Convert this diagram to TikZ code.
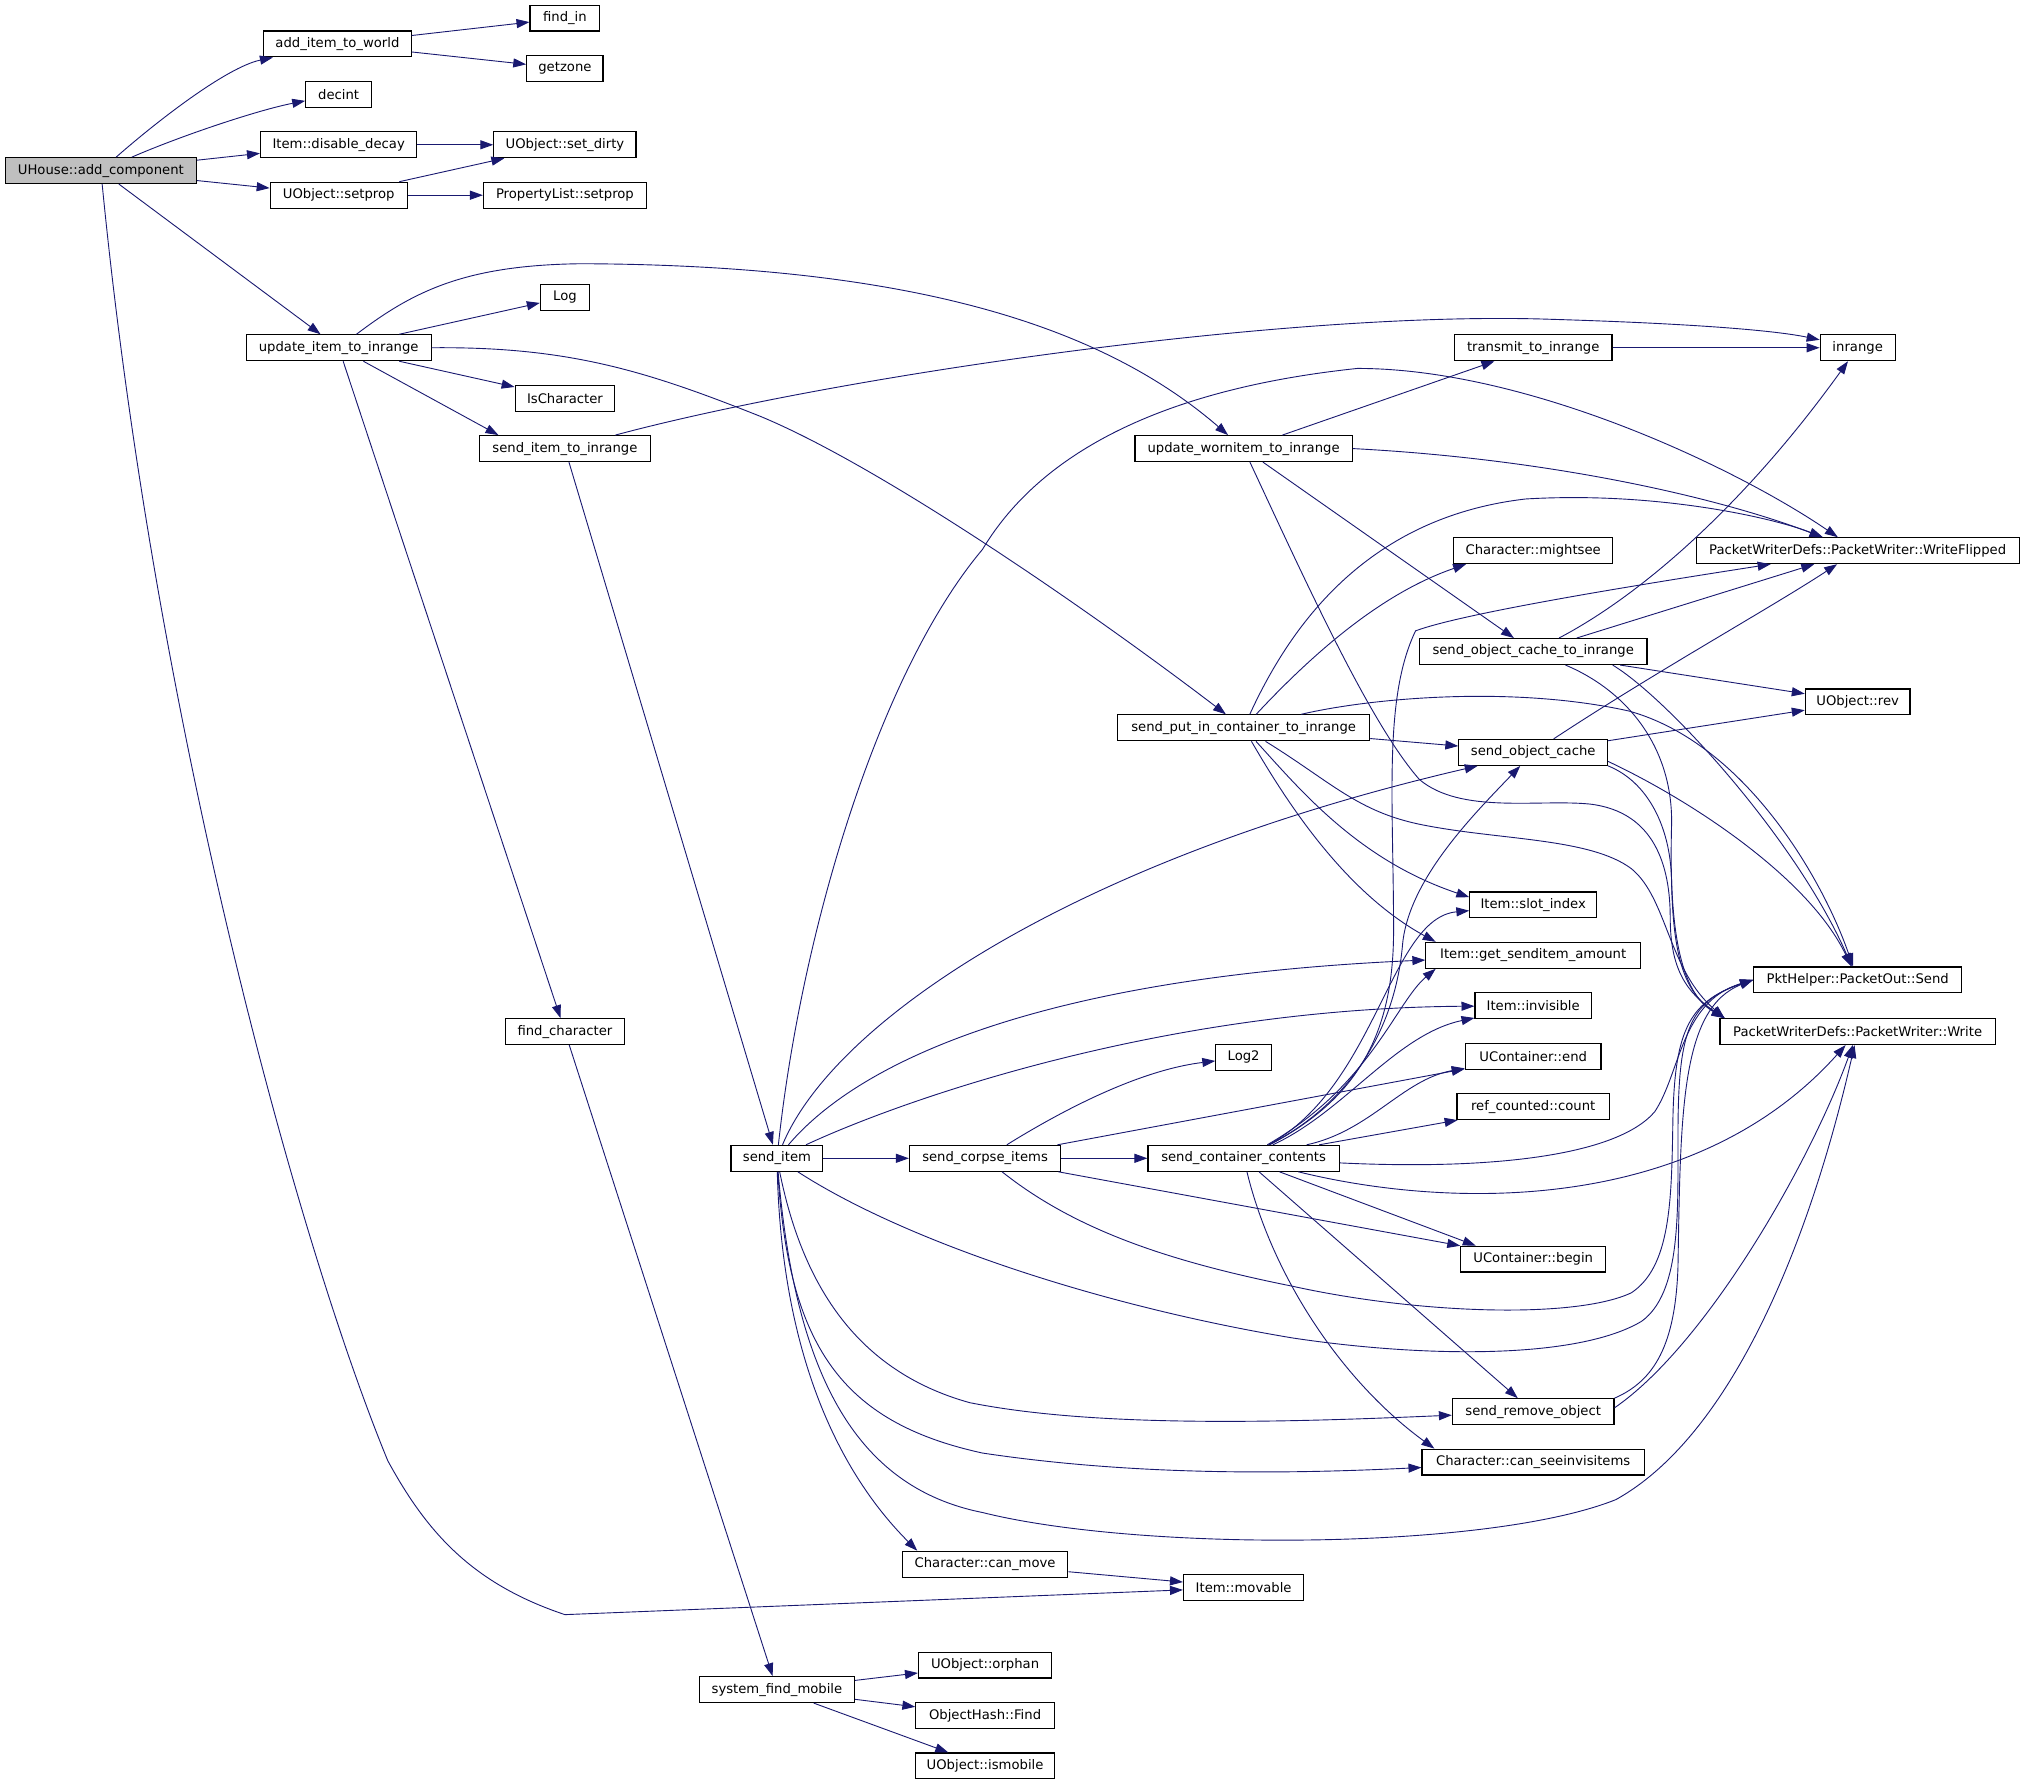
\documentclass[tikz,border=0pt]{standalone}
\usepackage{fontspec}
\setmainfont{DejaVu Sans}
\usepackage{xcolor}
\usepackage{tikz}
\usetikzlibrary{arrows.meta}
\definecolor{edgeblue}{HTML}{191970}
\definecolor{rootgray}{HTML}{BFBFBF}

\begin{document}
\begin{tikzpicture}[->,>={Triangle[length=10pt,width=7pt]},x=1pt,y=-1pt,
            line width=0.7pt,color=edgeblue]
        \tikzstyle{fn}=[draw=black,text=black,fill=white,line width=0.9pt,
            inner sep=0pt,minimum height=20pt,font=\fontsize{10.2}{12}\selectfont]
        \tikzstyle{root}=[fn,fill=rootgray]
        \useasboundingbox (0,0) rectangle (1568,1381);

        \node[root,minimum width=148pt] (addcomp) at (78,132) {UHouse::add\_component};
        \node[fn,minimum width=114pt] (additem) at (261,34) {add\_item\_to\_world};
        \node[fn,minimum width=54pt] (findin) at (437,14) {find\_in};
        \node[fn,minimum width=59pt] (getzone) at (437,53) {getzone};
        \node[fn,minimum width=51pt] (decint) at (262,73) {decint};
        \node[fn,minimum width=121pt] (disdecay) at (262,112) {Item::disable\_decay};
        \node[fn,minimum width=110pt] (setdirty) at (437,112) {UObject::set\_dirty};
        \node[fn,minimum width=106pt] (setprop) at (262,151) {UObject::setprop};
        \node[fn,minimum width=126pt] (plsetprop) at (437,151) {PropertyList::setprop};
        \node[fn,minimum width=143pt] (upditem) at (262,269) {update\_item\_to\_inrange};
        \node[fn,minimum width=38pt] (log) at (437,230) {Log};
        \node[fn,minimum width=77pt] (ischar) at (437,308) {IsCharacter};
        \node[fn,minimum width=132pt] (senditemir) at (437,347) {send\_item\_to\_inrange};
        \node[fn,minimum width=92pt] (findchar) at (437,798) {find\_character};
        \node[fn,minimum width=58pt] (inrange) at (1437,269) {inrange};
        \node[fn,minimum width=122pt] (transmit) at (1186,269) {transmit\_to\_inrange};
        \node[fn,minimum width=168pt] (updworn) at (962,347) {update\_wornitem\_to\_inrange};
        \node[fn,minimum width=250pt] (wflip) at (1437,426) {PacketWriterDefs::PacketWriter::WriteFlipped};
        \node[fn,minimum width=123pt] (mightsee) at (1186,426) {Character::mightsee};
        \node[fn,minimum width=176pt] (soctoir) at (1186,504) {send\_object\_cache\_to\_inrange};
        \node[fn,minimum width=81pt] (rev) at (1437,543) {UObject::rev};
        \node[fn,minimum width=195pt] (sendput) at (962,563) {send\_put\_in\_container\_to\_inrange};
        \node[fn,minimum width=115pt] (socache) at (1186,582) {send\_object\_cache};
        \node[fn,minimum width=98pt] (slotidx) at (1186,700) {Item::slot\_index};
        \node[fn,minimum width=166pt] (getamt) at (1186,739) {Item::get\_senditem\_amount};
        \node[fn,minimum width=161pt] (send) at (1437,758) {PktHelper::PacketOut::Send};
        \node[fn,minimum width=90pt] (invis) at (1186,778) {Item::invisible};
        \node[fn,minimum width=213pt] (write) at (1437,798) {PacketWriterDefs::PacketWriter::Write};
        \node[fn,minimum width=43pt] (log2) at (962,818) {Log2};
        \node[fn,minimum width=105pt] (ucend) at (1186,817) {UContainer::end};
        \node[fn,minimum width=118pt] (refcnt) at (1186,856) {ref\_counted::count};
        \node[fn,minimum width=71pt] (senditem) at (601,896) {send\_item};
        \node[fn,minimum width=117pt] (corpse) at (762,896) {send\_corpse\_items};
        \node[fn,minimum width=148pt] (contents) at (962,896) {send\_container\_contents};
        \node[fn,minimum width=112pt] (ucbegin) at (1186,974) {UContainer::begin};
        \node[fn,minimum width=125pt] (remove) at (1186,1092) {send\_remove\_object};
        \node[fn,minimum width=172pt] (seeinvis) at (1186,1131) {Character::can\_seeinvisitems};
        \node[fn,minimum width=128pt] (canmove) at (762,1210) {Character::can\_move};
        \node[fn,minimum width=93pt] (movable) at (962,1228) {Item::movable};
        \node[fn,minimum width=120pt] (sysfind) at (601,1307) {system\_find\_mobile};
        \node[fn,minimum width=103pt] (orphan) at (762,1288) {UObject::orphan};
        \node[fn,minimum width=107pt] (ohfind) at (762,1327) {ObjectHash::Find};
        \node[fn,minimum width=108pt] (ismobile) at (762,1366) {UObject::ismobile};
        \coordinate (wrnw) at ([xshift=4pt]write.north west);

        \draw (addcomp) .. controls (120,95) and (175,52) .. (additem);
        \draw (addcomp) .. controls (140,105) and (200,85) .. (decint);
        \path (addcomp) edge (disdecay);
        \path (addcomp) edge (setprop);
        \path (addcomp) edge (upditem);
        \draw (addcomp) .. controls (120,560) and (230,960) .. (300,1130)
            .. controls (330,1185) and (365,1225) .. (437,1249) -- (movable);
        \path (additem) edge (findin);
        \path (additem) edge (getzone);
        \path (disdecay) edge (setdirty);
        \path (setprop) edge (setdirty);
        \path (setprop) edge (plsetprop);

        \path (upditem) edge (log);
        \path (upditem) edge (ischar);
        \draw (upditem) -- ([xshift=15pt]senditemir.north west);
        \path (upditem) edge (findchar);
        \draw (upditem) .. controls (320,225) and (360,205) .. (450,204)
            .. controls (700,205) and (850,250) .. (updworn);
        \draw (upditem.east) .. controls (440,268) and (500,287) .. (588,322)
            .. controls (680,360) and (840,470) .. (sendput);
        \draw (senditemir) .. controls (650,290) and (1000,240) .. (1200,247)
            .. controls (1300,250) and (1370,255) .. (inrange);
        \path (senditemir) edge (senditem);
        \path (findchar) edge (sysfind);
        \path (sysfind) edge (orphan);
        \path (sysfind) edge (ohfind);
        \path (sysfind) edge (ismobile);
        \path (canmove) edge (movable);

        \path (transmit) edge (inrange);
        \path (updworn) edge (transmit);
        \draw (updworn.east) .. controls (1200,355) and (1330,385) .. (wflip);
        \path (updworn) edge (soctoir);
        \draw (updworn) .. controls (1010,450) and (1060,560) .. (1098,603)
            .. controls (1130,630) and (1190,618) .. (1230,622)
            .. controls (1280,628) and (1292,670) .. (1292,710)
            .. controls (1292,750) and (1305,768) .. (wrnw);

        \draw (soctoir) .. controls (1270,460) and (1350,390) .. (inrange);
        \path (soctoir) edge (wflip);
        \path (soctoir) edge (rev);
        \draw ([xshift=-27pt]soctoir.south east) .. controls (1290,540) and (1390,650) .. (send);
        \draw (soctoir) .. controls (1260,535) and (1295,580) .. (1293,640)
            .. controls (1291,720) and (1300,768) .. (wrnw);

        \draw (socache) .. controls (1280,520) and (1370,470) .. (wflip);
        \path (socache) edge (rev);
        \draw ([yshift=-7pt]socache.east) .. controls (1310,620) and (1400,680) .. (send);
        \draw (socache.south east) .. controls (1275,605) and (1292,640) .. (1293,680)
            .. controls (1294,740) and (1303,768) .. (wrnw);

        \draw (sendput) .. controls (1030,490) and (1080,455) .. ([xshift=10pt]mightsee.south west);
        \draw (sendput) .. controls (1000,480) and (1060,400) .. (1180,386)
            .. controls (1280,380) and (1370,400) .. (wflip);
        \path (sendput) edge (socache);
        \draw (sendput) .. controls (1005,610) and (1050,665) .. ([yshift=6pt]slotidx.west);
        \draw (sendput) .. controls (995,620) and (1040,690) .. ([xshift=8pt]getamt.north west);
        \draw (sendput) .. controls (1060,540) and (1170,530) .. (1260,550)
            .. controls (1350,575) and (1410,680) .. (send);
        \draw (sendput) .. controls (1030,605) and (1050,628) .. (1100,638)
            .. controls (1160,650) and (1230,648) .. (1262,672)
            .. controls (1290,695) and (1290,750) .. (wrnw);

        \draw (senditem) .. controls (620,720) and (680,520) .. (760,425)
            .. controls (790,375) and (860,305) .. (1050,285)
            .. controls (1180,285) and (1340,360) .. (wflip);
        \draw (senditem) .. controls (645,790) and (830,665) .. ([xshift=15pt]socache.south west);
        \draw (senditem) .. controls (670,815) and (820,755) .. (getamt);
        \draw (senditem) .. controls (700,850) and (900,780) .. (invis);
        \path (senditem) edge (corpse);
        \draw (senditem) .. controls (700,960) and (850,1010) .. (1000,1035)
            .. controls (1100,1050) and (1220,1052) .. (1270,1022)
            .. controls (1300,1000) and (1298,940) .. (1298,880)
            .. controls (1298,800) and (1305,775) .. (send.west);
        \draw (senditem) .. controls (620,990) and (660,1060) .. (750,1085)
            .. controls (850,1105) and (1000,1100) .. (remove);
        \draw (senditem) .. controls (610,1040) and (650,1100) .. (760,1124)
            .. controls (880,1142) and (1000,1140) .. (seeinvis);
        \draw (senditem) .. controls (605,1050) and (650,1140) .. ([xshift=12pt]canmove.north west);
        \draw (senditem) .. controls (615,1060) and (660,1150) .. (760,1170)
            .. controls (880,1200) and (1150,1200) .. (1250,1160)
            .. controls (1340,1110) and (1400,960) .. (write);

        \draw (corpse) .. controls (820,860) and (880,828) .. (log2);
        \path (corpse) edge (ucend);
        \path (corpse) edge (contents);
        \path (corpse) edge (ucbegin);
        \draw (corpse) .. controls (830,950) and (900,975) .. (1000,995)
            .. controls (1100,1017) and (1220,1020) .. (1262,1000)
            .. controls (1292,980) and (1293,930) .. (1294,870)
            .. controls (1295,800) and (1305,775) .. (send.west);

        \draw (contents) .. controls (1050,850) and (1078,800) .. (1078,720)
            .. controls (1078,620) and (1070,540) .. (1095,488)
            .. controls (1130,475) and (1250,455) .. (wflip);
        \draw (contents) .. controls (1050,850) and (1080,790) .. (1085,730)
            .. controls (1090,680) and (1140,630) .. (socache);
        \draw (contents) .. controls (1065,840) and (1075,710) .. (slotidx);
        \draw (contents) .. controls (1060,840) and (1080,775) .. ([xshift=8pt]getamt.south west);
        \draw (contents) .. controls (1040,860) and (1080,800) .. (invis);
        \draw (contents) .. controls (1060,875) and (1085,835) .. (ucend);
        \path (contents) edge (refcnt);
        \draw (contents) -- ([xshift=12pt]ucbegin.north west);
        \path (contents) edge (remove);
        \draw (contents) .. controls (985,990) and (1040,1070) .. ([xshift=10pt]seeinvis.north west);
        \draw (contents) .. controls (1150,905) and (1250,895) .. (1280,860)
            .. controls (1300,830) and (1300,775) .. (send.west);
        \draw (contents) .. controls (1120,935) and (1310,940) .. (write);

        \draw (remove.north east) .. controls (1280,1068) and (1296,1040) .. (1298,980)
            .. controls (1300,860) and (1300,780) .. (send.west);
        \draw ([yshift=3pt]remove.east) .. controls (1320,1040) and (1400,900) .. (write);
    \end{tikzpicture}
\end{document}
